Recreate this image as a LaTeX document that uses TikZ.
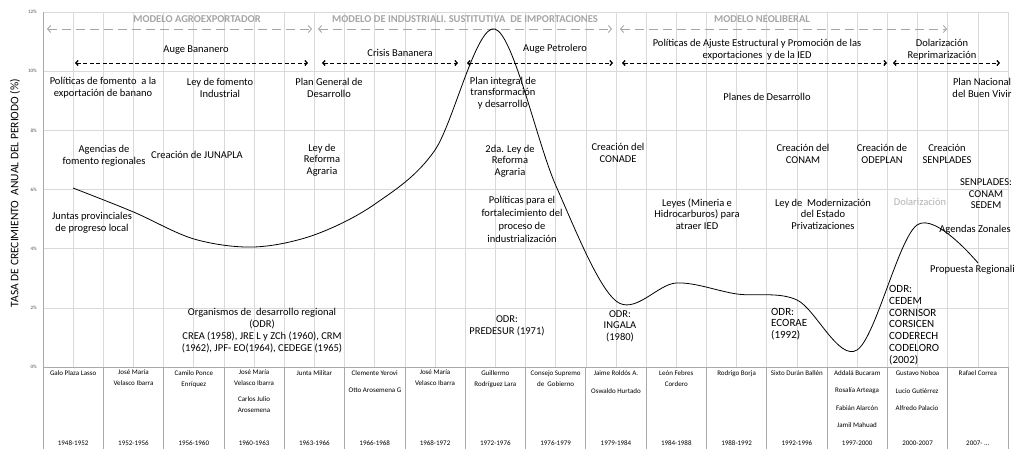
\documentclass[tikz,border=0pt]{standalone}
\usepackage{fontspec}
\setmainfont{Carlito}
\usepackage{tikz}
\usetikzlibrary{arrows.meta, calc, positioning}
\definecolor{gridgray}{RGB}{217,217,217}
\definecolor{axisgray}{RGB}{170,170,170}
\definecolor{modelgray}{RGB}{165,165,165}
\tikzset{
  txt/.style={font=\fontsize{10.5}{11.6}\selectfont, align=center, inner sep=0pt},
  odrtxt/.style={font=\fontsize{11}{11.8}\selectfont, align=left, inner sep=0pt, anchor=west},
  small/.style={font=\fontsize{7}{11}\selectfont, align=center, inner sep=0pt},
  ticklabel/.style={font=\fontsize{5}{6}\selectfont, text=black!70, inner sep=0pt},
  modelo/.style={font=\fontsize{10.5}{11}\selectfont\bfseries, text=modelgray, inner sep=0pt},
  modelarrow/.style={draw=modelgray, dash pattern=on 9pt off 5pt, line width=0.9pt,
    {Straight Barb[length=3pt,width=7pt]}-{Straight Barb[length=3pt,width=7pt]}},
  phasearrow/.style={draw=black, dash pattern=on 4pt off 2.5pt, line width=0.8pt,
    {Straight Barb[length=2.2pt,width=5pt,line width=1.3pt]}-{Straight Barb[length=2.2pt,width=5pt,line width=1.3pt]}},
  gridline/.style={draw=gridgray, line width=0.6pt},
  axisline/.style={draw=axisgray, line width=0.7pt},
  curve/.style={draw=black, line width=0.8pt},
}

\begin{document}
\begin{tikzpicture}[x=1pt, y=-1pt]
  \useasboundingbox (0,0) rectangle (1020,449);
  % grid of the chart
  \foreach \k in {0,...,32}
    \draw[gridline] ({43+30.156*\k},12) -- ({43+30.156*\k},367);
  \foreach \p in {2,4,...,12}
    \draw[gridline] (43,{367-29.583*\p}) -- (1008,{367-29.583*\p});
  \draw[axisline] (43,367) -- (1008,367);
  \draw[axisline] (43,12) -- (43,449);
  \foreach \k in {1,...,16}
    \draw[axisline] ({43+60.3125*\k},367) -- ({43+60.3125*\k},449);

  \foreach \p in {0,2,...,12}
    \node[ticklabel, anchor=east] (tick\p) at (37,{367-29.583*\p}) {\p\%};
  \node[font=\fontsize{11.5}{12}\selectfont, rotate=90, inner sep=0pt] (ytitle) at (15,193)
    {TASA DE CRECIMIENTO \ ANUAL DEL PERIODO (\%)};

  % modelos
  \node[modelo] (agro) at (197,19) {MODELO AGROEXPORTADOR};
  \node[modelo] (isi) at (465,19) {MODELO DE INDUSTRIALI. SUSTITUTIVA \ DE IMPORTACIONES};
  \node[modelo] (neolib) at (762,19) {MODELO NEOLIBERAL};
  \coordinate (agro-l) at (47,29);   \coordinate (agro-r) at (312,29);
  \coordinate (isi-l) at (318,29);   \coordinate (isi-r) at (612,29);
  \coordinate (neolib-l) at (620,29); \coordinate (neolib-r) at (947,29);
  \draw[modelarrow] (agro-l) -- (agro-r);
  \draw[modelarrow] (isi-l) -- (isi-r);
  \draw[modelarrow] (neolib-l) -- (neolib-r);

  % etapas
  \node[txt] (bananero) at (196,50) {Auge Bananero};
  \node[txt] (crisis) at (400,53) {Crisis Bananera};
  \node[txt] (petrolero) at (555,49) {Auge Petrolero};
  \node[txt] (ajuste) at (757,50) {Políticas de Ajuste Estructural y Promoción de las\\exportaciones \ y de la IED};
  \node[txt] (dolar) at (942,50) {Dolarización\\Reprimarización};
  \coordinate (bananero-l) at (75,63);   \coordinate (bananero-r) at (308,63);
  \coordinate (crisis-l) at (322,63);    \coordinate (crisis-r) at (458,63);
  \coordinate (petrolero-l) at (467,63); \coordinate (petrolero-r) at (613,63);
  \coordinate (ajuste-l) at (622,63);    \coordinate (ajuste-r) at (887,63);
  \coordinate (dolar-l) at (893,63);     \coordinate (dolar-r) at (1000,63);
  \draw[phasearrow] (bananero-l) -- (bananero-r);
  \draw[phasearrow] (crisis-l) -- (crisis-r);
  \draw[phasearrow] (petrolero-l) -- (petrolero-r);
  \draw[phasearrow] (ajuste-l) -- (ajuste-r);
  \draw[phasearrow, line width=0.6pt] (dolar-l) -- (dolar-r);

  % planes y leyes
  \node[txt] (fomento) at (103,88) {Políticas de fomento \ a la\\exportación de banano};
  \node[txt] (leyfomento) at (220,88) {Ley de fomento\\Industrial};
  \node[txt] (plangeneral) at (329,88) {Plan General de\\Desarrollo};
  \node[txt] (planintegral) at (503,93) {Plan integral de\\transformación\\y desarrollo};
  \node[txt] (planes) at (767,97) {Planes de Desarrollo};
  \node[txt] (buenvivir) at (982,88) {Plan Nacional\\del Buen Vivir};

  \node[txt] (agencias) at (104,155.5) {Agencias de\\fomento regionales};
  \node[txt] (junapla) at (197,155) {Creación de JUNAPLA};
  \node[txt] (reforma) at (322,160) {Ley de\\Reforma\\Agraria};
  \node[txt] (reforma2) at (510,161) {2da. Ley de\\Reforma\\Agraria};
  \node[txt] (conade) at (618,153) {Creación del\\CONADE};
  \node[txt] (conam) at (803,154) {Creación del\\CONAM};
  \node[txt] (odeplan) at (882,154) {Creación de\\ODEPLAN};
  \node[txt] (senplades) at (947,154) {Creación\\SENPLADES};
  \node[txt] (sedem) at (986,194) {SENPLADES:\\CONAM\\SEDEM};

  \node[txt] (juntas) at (92,223) {Juntas provinciales\\de progreso local};
  \node[txt, font=\fontsize{10.5}{13}\selectfont] (industrial) at (522,219)
    {Políticas para el\\fortalecimiento del\\proceso de\\industrialización};
  \node[txt] (leyes) at (697,214) {Leyes (Mineria e\\Hidrocarburos) para\\atraer IED};
  \node[txt] (modernizacion) at (823,214) {Ley de \ Modernización\\del Estado\\Privatizaciones};
  \node[txt, text=black!30] (dolar2) at (920,202) {Dolarización};
  \node[txt] (agendas) at (975,230) {Agendas Zonales};
  \node[txt, anchor=west] (propuesta) at (930,270) {Propuesta Regionali};

  % organismos de desarrollo regional
  \node[txt, font=\fontsize{10.5}{12}\selectfont] (odr) at (262,331)
    {Organismos de \ desarrollo regional\\(ODR)\\CREA (1958), JRE L y ZCh (1960), CRM\\(1962), JPF- EO(1964), CEDEGE (1965)};
  \node[txt] (predesur) at (507,326) {ODR:\\PREDESUR (1971)};
  \node[txt] (ingala) at (620,326) {ODR:\\INGALA\\(1980)};
  \node[odrtxt] (ecorae) at (771,324) {ODR:\\ECORAE\\(1992)};
  \node[odrtxt] (cedem) at (889,325) {ODR:\\CEDEM\\CORNISOR\\CORSICEN\\CODERECH\\CODELORO\\(2002)};

  % tasa de crecimiento
  \draw[curve] plot[smooth, tension=0.55] coordinates {(73,188) (133.5,212) (194,239)
    (254,247) (314,235) (375,204) (435,150) (495,29) (556,186) (616,301) (676,283)
    (737,294) (797,300) (857,350) (917,225) (978,263)};

  % gobiernos y periodos
  \foreach \i/\per/\who in {1/1948-1952/{Galo Plaza Lasso}, 2/1952-1956/{José María\\Velasco Ibarra},
      3/1956-1960/{Camilo Ponce\\Enríquez}, 4/1960-1963/{José María\\Velasco Ibarra},
      5/1963-1966/{Junta Militar}, 6/1966-1968/{Clemente Yerovi},
      7/1968-1972/{José María\\Velasco Ibarra}, 8/1972-1976/{Guillermo\\Rodríguez Lara},
      9/1976-1979/{Consejo Supremo\\de \ Gobierno}, 10/1979-1984/{Jaime Roldós A.},
      11/1984-1988/{León Febres\\Cordero}, 12/1988-1992/{Rodrigo Borja},
      13/1992-1996/{Sixto Durán Ballén}, 14/1997-2000/{Addalá Bucaram},
      15/2000-2007/{Gustavo Noboa}} {
    \node[small, anchor=north] (who\i) at ({43+60.3125*(\i-0.5)},370) {\who};
    \node[small] (per\i) at ({43+60.3125*(\i-0.5)},443) {\per};
  }
  \node[small, anchor=north] (who16) at (977.8,370) {Rafael Correa};
  \node[small] (per16) at (977.8,443) {2007- ...};
  \node[small] (arosemena) at (254,405) {Carlos Julio\\Arosemena};
  \node[small] (otto) at (375,390) {Otto Arosemena G};
  \node[small] (hurtado) at (616,391) {Oswaldo Hurtado};
  \node[small] (arteaga) at (857,391) {Rosalía Arteaga};
  \node[small] (alarcon) at (857,408) {Fabián Alarcón};
  \node[small] (mahuad) at (857,425) {Jamil Mahuad};
  \node[small] (gutierrez) at (917,391) {Lucio Gutiérrez};
  \node[small] (palacio) at (917,408) {Alfredo Palacio};
\end{tikzpicture}
\end{document}
